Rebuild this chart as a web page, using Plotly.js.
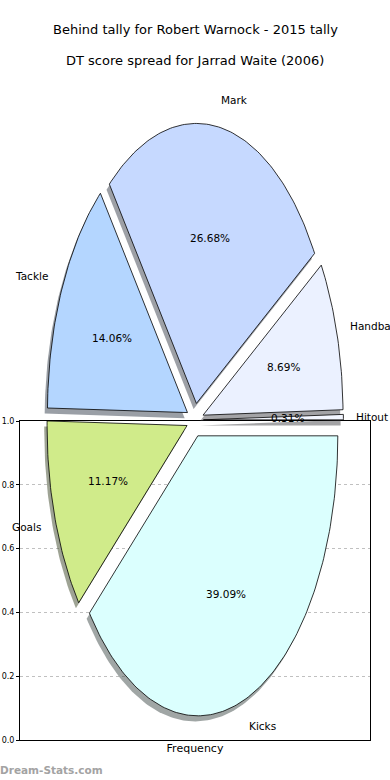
<!DOCTYPE html>
<html>
<head>
<meta charset="utf-8">
<script src="https://cdn.plot.ly/plotly-3.0.1.min.js"></script>
<style>html,body{margin:0;padding:0;background:#fff;}#chart{width:390px;height:780px;}</style>
</head>
<body>
<div id="chart"></div>
<script>
// ---- data ----
const categories = ["Hitout", "Handball", "Mark", "Tackle", "Goals", "Kicks"];
const values = [0.31, 8.69, 26.68, 14.06, 11.17, 39.09];
const colors = ["#f3f6ff", "#ebf1ff", "#c6d9ff", "#b4d6ff", "#d0eb8a", "#dbfffe"];
const explode = [0.06, 0.06, 0.06, 0.06, 0.06, 0.06];
const yTicks = [0.0, 0.2, 0.4, 0.6, 0.8, 1.0];
const yTickLabels = ["0.0", "0.2", "0.4", "0.6", "0.8", "1.0"];
const title1 = "Behind tally for Robert Warnock - 2015 tally";
const title2 = "DT score spread for Jarrad Waite (2006)";

// ---- geometry helpers (pie in its own hidden axes, unit radius) ----
const total = values.reduce((a, b) => a + b, 0);
const FONT = "DejaVu Sans, sans-serif";
const shadowTraces = [], wedgeTraces = [], annotations = [];
let theta = 0;
function hexToRgb(h) {
  return [parseInt(h.slice(1, 3), 16), parseInt(h.slice(3, 5), 16), parseInt(h.slice(5, 7), 16)];
}
values.forEach((v, i) => {
  const t1 = theta, t2 = theta + 360 * v / total;
  theta = t2;
  const mid = (t1 + t2) / 2 * Math.PI / 180;
  const cx = explode[i] * Math.cos(mid), cy = explode[i] * Math.sin(mid);
  const xs = [cx], ys = [cy];
  const n = Math.max(4, Math.ceil((t2 - t1) / 1));
  for (let k = 0; k <= n; k++) {
    const a = (t1 + (t2 - t1) * k / n) * Math.PI / 180;
    xs.push(cx + Math.cos(a));
    ys.push(cy + Math.sin(a));
  }
  xs.push(cx); ys.push(cy);
  const rgb = hexToRgb(colors[i]);
  shadowTraces.push({
    type: "scatter", mode: "lines", xaxis: "x2", yaxis: "y2",
    x: xs.map(x => x - 0.02), y: ys.map(y => y - 0.02),
    fill: "toself", line: {width: 0, color: "rgba(0,0,0,0)"},
    fillcolor: `rgba(${Math.round(rgb[0]*0.3)},${Math.round(rgb[1]*0.3)},${Math.round(rgb[2]*0.3)},0.5)`,
    hoverinfo: "skip", showlegend: false
  });
  wedgeTraces.push({
    type: "scatter", mode: "lines", xaxis: "x2", yaxis: "y2",
    x: xs, y: ys, fill: "toself", fillcolor: colors[i],
    line: {width: 0.8, color: "#000"},
    name: categories[i], hoverinfo: "name", showlegend: false
  });
  // category label
  const right = Math.cos(mid) > 0;
  annotations.push({
    xref: "x2", yref: "y2", x: cx + 1.1 * Math.cos(mid), y: cy + 1.1 * Math.sin(mid),
    text: categories[i], showarrow: false,
    xanchor: right ? "left" : "right", yanchor: "middle", xshift: right ? -3 : 1,
    font: {family: FONT, size: 10.5, color: "#000"}
  });
  // percentage label
  annotations.push({
    xref: "x2", yref: "y2", x: cx + 0.6 * Math.cos(mid), y: cy + 0.6 * Math.sin(mid),
    text: v.toFixed(2) + "%", showarrow: false, xanchor: "center", yanchor: "middle",
    font: {family: FONT, size: 10.5, color: "#000"}
  });
});

annotations.push({
  xref: "paper", yref: "paper", x: 0.5, y: 1 - 30 / 780, text: title1, showarrow: false,
  xanchor: "center", yanchor: "middle", font: {family: FONT, size: 13, color: "#000"}
});
annotations.push({
  xref: "paper", yref: "paper", x: 0.5, y: 1 - 61 / 780, text: title2, showarrow: false,
  xanchor: "center", yanchor: "middle", font: {family: FONT, size: 13, color: "#000"}
});
annotations.push({
  xref: "paper", yref: "paper", x: 0, y: 1 - 770 / 780, text: "<b>Dream-Stats.com</b>", showarrow: false,
  xanchor: "left", yanchor: "middle", xshift: -2, font: {family: FONT, size: 10.5, color: "#a3a3a3"}
});

// frame subplot needs at least one (invisible) trace
const frameTrace = {
  type: "scatter", mode: "markers", x: [0.5], y: [0.5], xaxis: "x", yaxis: "y",
  marker: {opacity: 0}, hoverinfo: "skip", showlegend: false
};

const layout = {
  width: 390, height: 780,
  margin: {l: 0, r: 0, t: 0, b: 0},
  paper_bgcolor: "#fff", plot_bgcolor: "rgba(0,0,0,0)",
  showlegend: false,
  xaxis: {
    domain: [20 / 390, 370 / 390], range: [0, 1], anchor: "y",
    showticklabels: false, ticks: "", showgrid: false, zeroline: false,
    showline: true, mirror: true, linecolor: "#000", linewidth: 1,
    title: {text: "Frequency", font: {family: FONT, size: 11, color: "#000"}, standoff: 4}
  },
  yaxis: {
    domain: [1 - 740 / 780, 1 - 421 / 780], range: [0, 1], anchor: "x",
    tickvals: yTicks, ticktext: yTickLabels, ticks: "outside", ticklen: 3, tickcolor: "#000",
    tickfont: {family: FONT, size: 8, color: "#000"},
    showgrid: true, gridcolor: "#c0c0c0", griddash: "dot", gridwidth: 1, zeroline: false,
    showline: true, mirror: true, linecolor: "#000", linewidth: 1
  },
  xaxis2: {domain: [0, 1], range: [-195 / 140, 195 / 140], anchor: "y2", visible: false, fixedrange: true},
  yaxis2: {domain: [0, 1], range: [-360 / 280, 420 / 280], anchor: "x2", visible: false, fixedrange: true},
  annotations: annotations
};

Plotly.newPlot("chart", [frameTrace].concat(shadowTraces, wedgeTraces), layout, {displayModeBar: false, staticPlot: true});
</script>
</body>
</html>
